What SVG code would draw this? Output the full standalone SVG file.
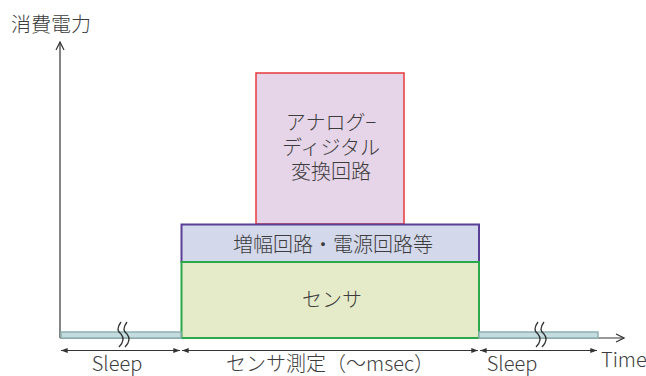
<svg xmlns="http://www.w3.org/2000/svg" width="646" height="376" viewBox="0 0 646 376">
<defs>
<style>
text{font-family:"Noto Sans CJK JP","Noto Sans",sans-serif;font-weight:300;fill:#3c3c3c;}
.lbl{font-size:20px;text-anchor:middle;}
.axis{stroke:#333;stroke-width:1.2;fill:none;}
.dim{stroke:#333;stroke-width:1;fill:none;marker-start:url(#dh);marker-end:url(#dh);}
.bar{fill:#c4dcdf;stroke:#8fb0b3;stroke-width:1.5;}
.brk{stroke:#333;stroke-width:1.3;fill:none;}
</style>
<marker id="ah" viewBox="0 0 10 10" refX="9" refY="5" markerWidth="10" markerHeight="10" markerUnits="userSpaceOnUse" orient="auto"><path d="M1,1 L9,5 L1,9" fill="none" stroke="#333" stroke-width="1.2"/></marker>
<marker id="dh" viewBox="0 0 8 6" refX="8" refY="3" markerWidth="7" markerHeight="5" markerUnits="userSpaceOnUse" orient="auto-start-reverse"><path d="M0,0 L8,3 L0,6 Z" fill="#333"/></marker>
</defs>
<rect width="646" height="376" fill="#fff"/>
<g id="axes">
<line class="axis" x1="60" y1="338" x2="60" y2="42" marker-end="url(#ah)"/>
<line class="axis" x1="60" y1="338" x2="624" y2="338" marker-end="url(#ah)"/>
<text x="11" y="32" font-size="20">消費電力</text>
<text x="601" y="367" font-size="20">Time</text>
</g>
<g id="adc">
<rect x="256" y="73" width="148" height="151" fill="#e6d5e8" stroke="#e8383d" stroke-width="1.5"/>
<text class="lbl" x="331" y="130">アナログ−</text>
<text class="lbl" x="331" y="155">ディジタル</text>
<text class="lbl" x="331" y="179">変換回路</text>
</g>
<g id="amp">
<rect x="181.5" y="224.5" width="297.5" height="37.5" fill="#d4d8eb" stroke="#5b3f97" stroke-width="2"/>
<text class="lbl" x="333" y="252">増幅回路・電源回路等</text>
</g>
<g id="sensor">
<rect x="181.5" y="262" width="297.5" height="76" fill="#e5ebc8" stroke="#2ba84a" stroke-width="2"/>
<text class="lbl" x="332" y="307">センサ</text>
</g>
<g id="sleep-left">
<rect class="bar" x="61" y="332" width="120" height="6"/>
<path class="brk" d="M121,322 q-6,8 0,12 q5,6 -2,13 M127,322 q-6,8 0,12 q5,6 -2,13"/>
</g>
<g id="sleep-right">
<rect class="bar" x="479" y="332" width="119" height="6"/>
<path class="brk" d="M538,322 q-6,8 0,12 q5,6 -2,13 M544,322 q-6,8 0,12 q5,6 -2,13"/>
</g>
<g id="connectors">
<line class="dim" x1="61" y1="350.5" x2="180" y2="350.5"/>
<line class="dim" x1="182" y1="350.5" x2="478" y2="350.5"/>
<line class="dim" x1="480" y1="350.5" x2="597" y2="350.5"/>
</g>
<g id="labels">
<text class="lbl" x="117" y="371">Sleep</text>
<text class="lbl" x="330" y="371">センサ測定（〜msec）</text>
<text class="lbl" x="512" y="371">Sleep</text>
</g>
</svg>
